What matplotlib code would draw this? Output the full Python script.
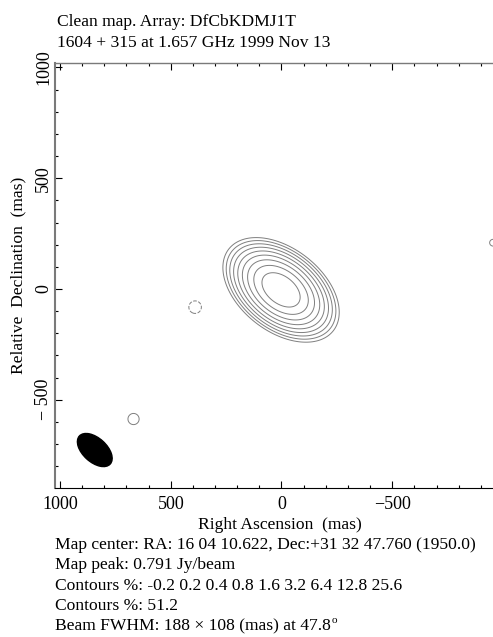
import numpy as np
import matplotlib
matplotlib.use('Agg')
from matplotlib import pyplot as plt
from matplotlib.patches import Ellipse
from matplotlib.ticker import MultipleLocator, FixedFormatter, FixedLocator

plt.rcParams['font.family'] = ['Liberation Serif', 'DejaVu Serif']

# ---- map description (mas, Jy/beam) ----
peak = 0.791
levels_pct = [-0.2, 0.2, 0.4, 0.8, 1.6, 3.2, 6.4, 12.8, 25.6, 51.2]

# gaussian components making up the clean map
comp_ra = [2.0, 390.0, 668.0, -955.0]
comp_dec = [-4.0, -82.0, -587.0, 209.0]
comp_flux = [0.791, -0.003 * 0.791, 0.003 * 0.791, 0.003 * 0.791]
comp_maj = [200.0, 74.0, 66.0, 40.0]   # FWHM
comp_min = [125.0, 74.0, 66.0, 40.0]
comp_pa = [52.0, 0.0, 0.0, 0.0]

beam_maj, beam_min, beam_pa = 188.0, 108.0, 47.8
beam_ra, beam_dec = 843.0, -727.0

title1 = 'Clean map. Array: DfCbKDMJ1T'
title2 = '1604 + 315 at 1.657 GHz 1999 Nov 13'
info_lines = ['Map center: RA: 16 04 10.622, Dec:+31 32 47.760 (1950.0)',
              'Map peak: 0.791 Jy/beam',
              'Contours %: -0.2 0.2 0.4 0.8 1.6 3.2 6.4 12.8 25.6',
              'Contours %: 51.2',
              'Beam FWHM: 188 \u00d7 108 (mas) at 47.8']
xticks = [1000, 500, 0, -500]
xtick_labels = ['1000', '500', '0', '\u2212500']
yticks = [1000, 500, 0, -500]
ytick_labels = ['1000', '500', '0', '\u2212 500']

# ---- build the map ----
xg = np.arange(1040, -980, -4.0)
yg = np.arange(-920, 1040, 4.0)
X, Y = np.meshgrid(xg, yg)
Z = np.zeros_like(X)
fw = 2.0 * np.sqrt(2.0 * np.log(2.0))
for ra, dec, f, mj, mn, pa in zip(comp_ra, comp_dec, comp_flux, comp_maj, comp_min, comp_pa):
    t = np.deg2rad(pa)
    dx, dy = X - ra, Y - dec
    u = dx * np.sin(t) + dy * np.cos(t)   # along major axis
    v = dx * np.cos(t) - dy * np.sin(t)
    Z += f * np.exp(-0.5 * ((u / (mj / fw)) ** 2 + (v / (mn / fw)) ** 2))

W, H = 493, 637
fig = plt.figure(figsize=(W / 100, H / 100), dpi=100)
ax = fig.add_axes([55 / W, 1 - 488 / H, 438 / W, 425 / H])

levels = [peak * p / 100.0 for p in levels_pct]
ax.contour(X, Y, Z, levels=levels, colors='#7f7f7f', linewidths=0.7,
           negative_linestyles='dashed')
ax.add_patch(Ellipse((beam_ra, beam_dec), beam_maj, beam_min, angle=90 - beam_pa,
                     facecolor='black', edgecolor='black'))

ax.set_xlim(1022.6, -954.9)
ax.set_ylim(-898.4, 1020.3)

ax.xaxis.set_major_locator(FixedLocator(xticks))
ax.xaxis.set_major_formatter(FixedFormatter(xtick_labels))
ax.yaxis.set_major_locator(FixedLocator(yticks))
ax.yaxis.set_major_formatter(FixedFormatter(ytick_labels))
ax.xaxis.set_minor_locator(MultipleLocator(100))
ax.yaxis.set_minor_locator(MultipleLocator(100))
ax.tick_params(which='both', direction='in', top=True, right=False, labelsize=13)
ax.tick_params(which='major', length=4.8, width=0.8)
ax.tick_params(which='minor', length=2.2, width=0.8)
ax.tick_params(axis='x', pad=6)
ax.tick_params(axis='y', pad=2)
for lab in ax.get_yticklabels():
    lab.set_rotation(90)
    lab.set_va('center')

ax.spines['right'].set_visible(False)
ax.spines['left'].set_color('#7a7a7a')
ax.spines['left'].set_linewidth(1.5)
ax.spines['top'].set_color('#7a7a7a')
ax.spines['top'].set_linewidth(1.0)
ax.spines['bottom'].set_color('black')
ax.spines['bottom'].set_linewidth(0.8)

fs = 12.6
fig.text(57 / W, 1 - 22 / H, title1, fontsize=fs, va='center', ha='left')
fig.text(57 / W, 1 - 43 / H, title2, fontsize=fs, va='center', ha='left')
fig.text(280 / W, 1 - 525 / H, 'Right Ascension  (mas)', fontsize=fs, va='center', ha='center')
fig.text(18 / W, 1 - 275 / H, 'Relative  Declination  (mas)', fontsize=fs,
         va='center', ha='center', rotation=90)
for i, line in enumerate(info_lines):
    t = fig.text(55 / W, 1 - (545 + 20.3 * i) / H, line, fontsize=fs, va='center', ha='left')
# degree mark after the beam position angle
fig.canvas.draw()
bb = t.get_window_extent()
fig.text((bb.x1 + 1) / W, (bb.y1 - 2) / H, 'o', fontsize=8, va='center', ha='left')

fig.savefig('out.png', dpi=100)
